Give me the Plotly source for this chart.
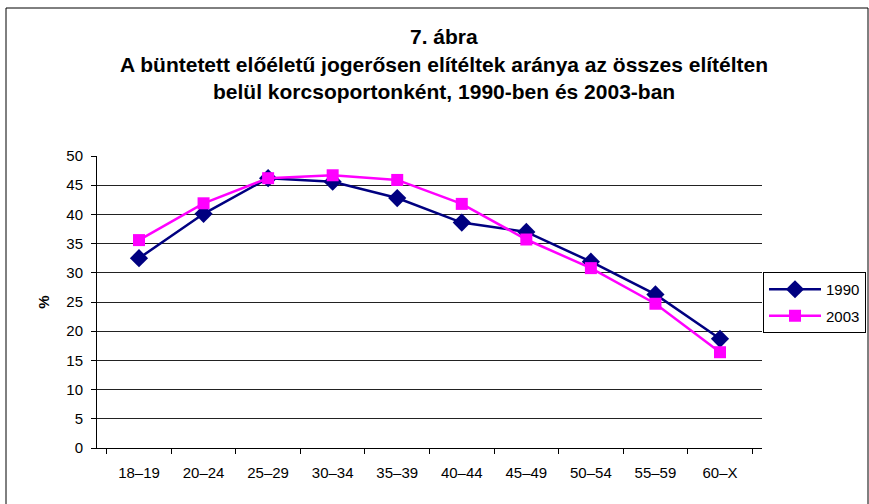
import plotly.graph_objects as go

categories = ["18–19", "20–24", "25–29", "30–34", "35–39", "40–44", "45–49", "50–54", "55–59", "60–X"]
values_1990 = [32.5, 40.1, 46.2, 45.6, 42.8, 38.6, 37.0, 31.9, 26.3, 18.7]
values_2003 = [35.6, 41.9, 46.2, 46.7, 45.9, 41.8, 35.7, 30.8, 24.7, 16.4]
y_ticks = [0, 5, 10, 15, 20, 25, 30, 35, 40, 45, 50]

W, H = 869, 504
L, R, T, B = 97, 107, 156, 56
pw, ph = W - L - R, H - T - B

def px(x):
    return (x - L) / pw

def py(y):
    return (H - B - y) / ph

font = "Liberation Sans, Arial, sans-serif"

fig = go.Figure()
fig.add_trace(go.Scatter(x=categories, y=values_1990, name="1990", mode="lines+markers",
                         legendgroup="a",
                         line=dict(color="#000080", width=2.5),
                         marker=dict(symbol="diamond", size=14, color="#000080")))
fig.add_trace(go.Scatter(x=categories, y=values_2003, name="2003", mode="lines+markers",
                         legendgroup="b",
                         line=dict(color="#FF00FF", width=2.5),
                         marker=dict(symbol="square", size=12, color="#FF00FF")))

fig.update_layout(
    width=W, height=H,
    margin=dict(l=L, r=R, t=T, b=B, autoexpand=False),
    paper_bgcolor="white", plot_bgcolor="white",
    font=dict(family=font, size=15, color="black"),
    showlegend=True,
    legend=dict(x=px(763), y=py(272), xanchor="left", yanchor="top",
                bordercolor="black", borderwidth=1, bgcolor="white",
                font=dict(size=15), traceorder="grouped", tracegroupgap=4,
                itemwidth=52),
    xaxis=dict(type="category", showline=True, linecolor="black", linewidth=1,
               ticks="outside", ticklen=5, tickcolor="black", tickson="boundaries",
               showgrid=False, mirror=False, tickfont=dict(size=15),
               ticklabelstandoff=11),
    yaxis=dict(range=[0, 50], tickvals=y_ticks, showline=True, linecolor="black",
               linewidth=1, ticks="outside", ticklen=5, tickcolor="black",
               showgrid=True, gridcolor="#222", gridwidth=1, zeroline=False,
               tickfont=dict(size=15), ticklabelstandoff=5,
               title=dict(text="<b>%</b>", font=dict(size=15), standoff=13)),
    shapes=[dict(type="rect", xref="paper", yref="paper",
                 x0=px(6), x1=px(868), y0=py(515), y1=py(8),
                 line=dict(color="black", width=1), layer="below")],
)

titles = [("7. ábra", 36.5),
          ("A büntetett előéletű jogerősen elítéltek aránya az összes elítélten", 64),
          ("belül korcsoportonként, 1990-ben és 2003-ban", 91)]
for text, y in titles:
    fig.add_annotation(text="<b>" + text + "</b>", xref="paper", yref="paper",
                       x=px(444), y=py(y), xanchor="center", yanchor="middle",
                       showarrow=False, font=dict(size=21, family=font, color="black"))

fig.write_html("out.html", config={"displayModeBar": False},
               post_script="document.body.style.margin='0';document.body.style.overflow='hidden';")
